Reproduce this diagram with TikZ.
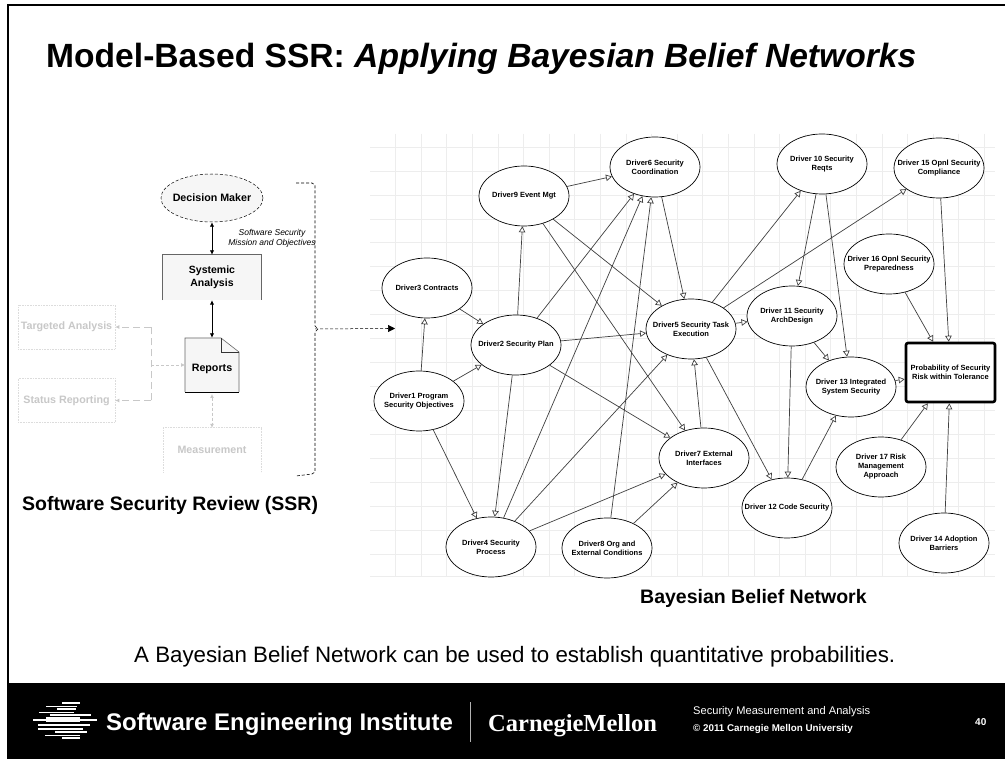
\documentclass[tikz,border=0pt]{standalone}
\usepackage{fontspec}
\setmainfont{Liberation Sans}
\usetikzlibrary{arrows.meta,shapes.geometric}
\definecolor{gridgray}{HTML}{EDEDED}
\definecolor{paleboxfill}{HTML}{F6F6F6}
\definecolor{fadegray}{HTML}{C8C8C8}
\definecolor{fadeline}{HTML}{DCDCDC}
\tikzset{
    drv/.style={draw,ellipse,fill=white,line width=0.7pt,minimum width=90pt,minimum height=60pt,inner sep=-13pt,align=center,font=\fontsize{7.5}{9}\selectfont\bfseries},
    link/.style={draw=black!75,line width=0.7pt,-{Triangle[open,fill=white,length=6pt,width=6.5pt]}},
    solidlink/.style={line width=1pt,{Latex[length=4.5pt,width=4.5pt]}-{Latex[length=4.5pt,width=4.5pt]}},
    fadetext/.style={text=fadegray,font=\fontsize{10.7}{12}\selectfont\bfseries},
    fadebox/.style={draw=fadeline,densely dotted,line width=0.6pt,minimum width=97pt,minimum height=44pt,inner sep=0pt,fadetext},
    fadelink/.style={draw=fadegray,line width=0.9pt,dash pattern=on 7pt off 4pt},
    fadetip/.style={-{Latex[length=4pt,width=4pt]}},
    footertext/.style={text=white,anchor=base west,inner sep=0pt}
}
\begin{document}
\begin{tikzpicture}[x=1pt,y=-1pt]
    \useasboundingbox (0,0) rectangle (1005,759);
    % slide frame and footer
    \fill[white] (0,0) rectangle (1005,759);
    \draw[line width=2pt] (8,759) -- (8,5) -- (1005,5);
    \fill[black] (7,683) rectangle (1005,759);
    \node[anchor=base west,inner sep=0pt,font=\fontsize{33.6}{36}\selectfont\bfseries] (title) at (46,68) {Model-Based SSR: \textit{Applying Bayesian Belief Networks}};

    % grid behind the network
    \foreach \x in {395.5,421,446.7,472.3,498,523.5,549,574.7,600.3,626,651.5,677,702.7,728.3,754,779.5,805,830.7,856.3,882,907.5,933,958.7,984.3}
        \draw[gridgray,line width=0.8pt] (\x,134) -- (\x,576);
    \foreach \y in {147.5,171.5,195.5,219.5,242,266,290,314,338,362,386,410,434,458,482,506,530,554,576}
        \draw[gridgray,line width=0.8pt] (370,\y) -- (995,\y);

    % network
    \node[drv] (d1) at (419,401) {Driver1 Program\\Security Objectives};
    \node[drv] (d2) at (516,345) {Driver2 Security Plan};
    \node[drv] (d3) at (427,288) {Driver3 Contracts};
    \node[drv] (d4) at (491,547) {Driver4 Security\\Process};
    \node[drv] (d5) at (691,329) {Driver5 Security Task\\Execution};
    \node[drv] (d6) at (655,167) {Driver6 Security\\Coordination};
    \node[drv] (d7) at (704,458) {Driver7 External\\Interfaces};
    \node[drv] (d8) at (607,548) {Driver8 Org and\\External Conditions};
    \node[drv] (d9) at (524,196) {Driver9 Event Mgt};
    \node[drv] (d10) at (822,164) {Driver 10 Security\\Reqts};
    \node[drv] (d11) at (792,316) {Driver 11 Security\\ArchDesign};
    \node[drv] (d12) at (787,508) {Driver 12 Code Security};
    \node[drv] (d13) at (851,387) {Driver 13 Integrated\\System Security};
    \node[drv] (d14) at (944,543) {Driver 14 Adoption\\Barriers};
    \node[drv] (d15) at (939,168) {Driver 15 Opnl Security\\Compliance};
    \node[drv] (d16) at (889,264) {Driver 16 Opnl Security\\Preparedness};
    \node[drv] (d17) at (881,467) {Driver 17 Risk\\Management\\Approach};
    \node[draw,fill=white,line width=2.6pt,rounded corners=2pt,minimum width=89pt,minimum height=59pt,inner sep=0pt,align=center,font=\fontsize{7.5}{9}\selectfont\bfseries] (risk) at (950.5,372.5) {Probability of Security\\Risk within Tolerance};

    \foreach \a/\b in {d9/d6,d2/d9,d3/d2,d1/d3,d1/d2,d1/d4,d2/d4,d2/d6,d4/d6,d8/d6,d6/d5,d9/d5,d9/d7,d2/d5,d2/d7,d4/d5,d4/d7,d8/d7,d7/d5,d5/d10,d5/d15,d5/d11,d5/d12,d10/d11,d10/d13,d11/d12,d11/d13,d12/d13,d13/risk,d16/risk,d15/risk,d17/risk,d14/risk}
        \draw[link] (\a) -- (\b);

    % review process on the left
    \node[draw,densely dashed,ellipse,fill=paleboxfill,line width=0.5pt,minimum width=102pt,minimum height=48pt,inner sep=-8pt,font=\fontsize{10.7}{12}\selectfont\bfseries] (maker) at (212,198) {Decision Maker};
    \node[fill=paleboxfill,minimum width=98pt,minimum height=45pt,inner sep=0pt,align=center,font=\fontsize{10.5}{12.7}\selectfont\bfseries] (sysan) at (212,277.5) {Systemic\\Analysis};
    \draw[black!60,line width=0.7pt] (sysan.south west) |- (sysan.north east) -- (sysan.south east);
    \fill[paleboxfill] (185,338) -- (221,338) -- (239,352) -- (239,392) -- (185,392) -- cycle;
    \node[minimum width=54pt,minimum height=62pt,inner sep=0pt,font=\fontsize{10.7}{12}\selectfont\bfseries] (reports) at (212,369) {Reports};
    \draw[black!60,line width=0.6pt] (239,392) -- (239,352) -- (221,338) -- (185,338) -- (185,392);
    \draw[black!80,line width=0.7pt] (221,338) -- (221,352) -- (239,352);
    \draw[line width=0.9pt] (185,392) -- (239,392);
    \draw[solidlink] (maker) -- (sysan);
    \draw[solidlink] (sysan) -- (reports);
    \node[align=center,inner sep=0pt,font=\fontsize{8.5}{10}\selectfont\itshape] (mission) at (272,238) {Software Security\\Mission and Objectives};

    \node[fadebox] (targeted) at (66.5,327) {Targeted Analysis};
    \node[fadebox] (status) at (66.5,400.5) {Status Reporting};
    \node[minimum width=98pt,minimum height=44pt,inner sep=0pt,fadetext] (meas) at (212,450) {Measurement};
    \draw[fadeline,densely dotted,line width=0.6pt] (meas.south west) |- (meas.north east) -- (meas.south east);
    \coordinate (trunktop) at (151,327);
    \coordinate (trunkmid) at (151,365);
    \coordinate (trunkend) at (151,400.5);
    \coordinate (reportsend) at (212,394);
    \draw[fadelink] (trunkend) -- (trunktop);
    \draw[fadelink,fadetip] (trunktop) -- (targeted);
    \draw[fadelink,fadetip] (trunkend) -- (status);
    \draw[fadegray,line width=0.7pt,densely dashed,fadetip] (trunkmid) -- (185,365);
    \draw[fadegray,line width=1pt,densely dashed,{Latex[length=4pt,width=4pt]}-{Latex[length=4pt,width=4pt]}] (reportsend) -- (meas);

    % bracket round the process
    \coordinate (bracemid) at (315,329);
    \coordinate (nettip) at (395,328.5);
    \draw[densely dashed,line width=0.6pt] (296,183) -- (312,183) -- (315,185) -- (315,326) -- (318,329) -- (315,332) -- (315,472) -- (312,474) -- (296,476);
    \draw[densely dashed,line width=0.5pt] (bracemid) -- (387,328.5);
    \draw[line width=0.6pt,-{Triangle[length=7pt,width=7pt]}] (387,328.5) -- (nettip);

    % captions
    \node[anchor=base west,inner sep=0pt,font=\fontsize{19.5}{22}\selectfont\bfseries] (ssrcap) at (22,511) {Software Security Review (SSR)};
    \node[anchor=base west,inner sep=0pt,font=\fontsize{19.5}{22}\selectfont\bfseries] (bbncap) at (640,603) {Bayesian Belief Network};
    \node[anchor=base west,inner sep=0pt,font=\fontsize{22.3}{24}\selectfont] (usecap) at (134,662) {A Bayesian Belief Network can be used to establish quantitative probabilities.};

    % footer contents
    \foreach \xa/\xb/\yy/\hh in {62/80/703/2.5,46/77/706/1,57/76/709/1.5,39/74/712.5/1,50/91/715/2,46/80/719/5,33/97/720/1.2,38/90/725/2,38/83/729/1.2,55/87/732/2.5,45/80/735.5/1,62/80/738/2.5}
        \fill[white] (\xa,\yy-\hh/2) rectangle (\xb,\yy+\hh/2);
    \node[footertext,font=\fontsize{24}{26}\selectfont\bfseries] (sei) at (106,730) {Software Engineering Institute};
    \draw[white!70!black,line width=0.6pt] (470,702) -- (470,742);
    \node[footertext,font=\fontsize{24.5}{26}\selectfont\bfseries\fontspec{Liberation Serif}] (cmu) at (488,731) {CarnegieMellon};
    \node[footertext,font=\fontsize{11.1}{13}\selectfont] (dept) at (693,714) {Security Measurement and Analysis};
    \node[footertext,font=\fontsize{9.8}{12}\selectfont\bfseries] (copy) at (693,731) {© 2011 Carnegie Mellon University};
    \node[footertext,font=\fontsize{10}{12}\selectfont\bfseries] (pagenum) at (975,725) {40};
\end{tikzpicture}
\end{document}
